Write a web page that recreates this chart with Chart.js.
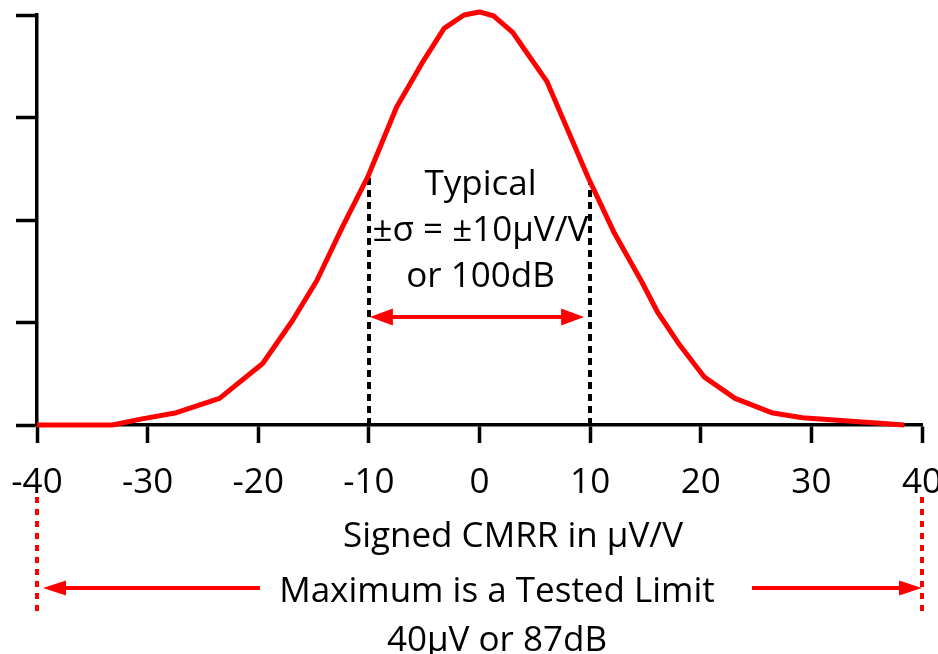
<!DOCTYPE html>
<html>
<head>
<meta charset="utf-8">
<script src="https://cdn.jsdelivr.net/npm/chart.js@4/dist/chart.umd.min.js"></script>
<style>
  html, body { margin: 0; padding: 0; background: #fff; }
  #wrap { width: 938px; height: 654px; position: relative; overflow: hidden; }
</style>
</head>
<body>
<div id="wrap"><canvas id="c" width="938" height="654"></canvas></div>
<script>
// Signed CMRR distribution (µV/V) and its relative frequency
const cmrrX   = [-40, -33.2, -30.5, -27.4, -23.5, -19.6, -16.9, -14.7, -12.4, -10.1, -7.5, -5.2, -3.2, -1.4, 0, 1.3, 3.0, 3.9, 6.1, 9.8, 12.2, 14.7, 16.1, 18.1, 20.3, 23.1, 26.4, 29.2, 38.4];
const density = [0, 0, 0.06, 0.12, 0.26, 0.60, 1.02, 1.41, 1.93, 2.42, 3.10, 3.53, 3.87, 4.00, 4.03, 3.99, 3.83, 3.69, 3.35, 2.42, 1.87, 1.39, 1.10, 0.78, 0.47, 0.26, 0.12, 0.07, 0];

// Axis ticks
const xTicks      = [-40, -30, -20, -10, 0, 10, 20, 30, 40];
const xTickLabels = ['-40', '-30', '-20', '-10', '0', '10', '20', '30', '40'];
const yTicks      = [0, 1, 2, 3, 4];

// Annotated values (µV/V)
const sigma = 10;   // typical ±σ
const limit = 40;   // tested maximum

// Texts
const axisTitle  = 'Signed CMRR in µV/V';
const sigmaNote  = ['Typical', '±σ = ±10µV/V', 'or 100dB'];
const limitNote  = ['Maximum is a Tested Limit', '40µV or 87dB'];

const FONT = '"Open Sans", Lato, sans-serif';
const FONT_SIZE = 35;
const RED = '#ff0000';

// curve height at a given x, read along the plotted polyline
function curveAt(x) {
  for (let i = 0; i < cmrrX.length - 1; i++) {
    if (x >= cmrrX[i] && x <= cmrrX[i + 1]) {
      const t = (x - cmrrX[i]) / (cmrrX[i + 1] - cmrrX[i]);
      return density[i] + t * (density[i + 1] - density[i]);
    }
  }
  return 0;
}

function arrowHead(ctx, tipX, tipY, dir, len, half) {
  // dir = -1 points left, +1 points right
  ctx.beginPath();
  ctx.moveTo(tipX, tipY);
  ctx.lineTo(tipX - dir * len, tipY - half);
  ctx.lineTo(tipX - dir * len, tipY + half);
  ctx.closePath();
  ctx.fill();
}

const notes = {
  id: 'notes',
  beforeDatasetsDraw(chart) {
    const { ctx, scales: { x: xs, y: ys } } = chart;
    ctx.save();
    // ±σ markers, dotted from the axis up to the curve
    ctx.strokeStyle = '#000';
    ctx.lineWidth = 4;
    ctx.setLineDash([7, 5]);
    [-sigma, sigma].forEach(v => {
      const px = Math.round(xs.getPixelForValue(v));
      ctx.beginPath();
      ctx.moveTo(px, ys.getPixelForValue(0));
      ctx.lineTo(px, ys.getPixelForValue(curveAt(v)));
      ctx.stroke();
    });
    ctx.restore();
  },
  afterDraw(chart) {
    const { ctx, scales: { x: xs, y: ys } } = chart;
    ctx.save();
    const cx = xs.getPixelForValue(0);
    const left = xs.getPixelForValue(-sigma);
    const right = xs.getPixelForValue(sigma);

    // ±σ text block
    ctx.fillStyle = '#000';
    ctx.font = FONT_SIZE + 'px ' + FONT;
    ctx.textAlign = 'center';
    ctx.textBaseline = 'alphabetic';
    [195, 241, 287].forEach((by, i) => ctx.fillText(sigmaNote[i], cx + 1, by));

    // double arrow spanning ±σ
    ctx.strokeStyle = RED;
    ctx.fillStyle = RED;
    ctx.lineWidth = 4;
    ctx.setLineDash([]);
    const ay = 317;
    const l0 = left + 1, r0 = right - 6;
    ctx.beginPath();
    ctx.moveTo(l0 + 18, ay);
    ctx.lineTo(r0 - 18, ay);
    ctx.stroke();
    arrowHead(ctx, l0, ay, -1, 23, 8.5);
    arrowHead(ctx, r0, ay, 1, 23, 8.5);

    // axis title
    ctx.fillStyle = '#000';
    ctx.fillText(axisTitle, 513, 547);

    // tested-limit markers
    const lx = Math.round(xs.getPixelForValue(-limit));
    const rx = Math.round(xs.getPixelForValue(limit));
    ctx.strokeStyle = RED;
    ctx.lineWidth = 4;
    ctx.setLineDash([6, 6]);
    [lx, rx].forEach(px => {
      ctx.beginPath();
      ctx.moveTo(px, 497);
      ctx.lineTo(px, 612);
      ctx.stroke();
    });
    ctx.setLineDash([]);
    const by = 588;
    ctx.fillStyle = RED;
    ctx.beginPath();
    ctx.moveTo(260, by);
    ctx.lineTo(lx + 6 + 18, by);
    ctx.moveTo(752, by);
    ctx.lineTo(rx - 18, by);
    ctx.stroke();
    arrowHead(ctx, lx + 6, by, -1, 23, 7.5);
    arrowHead(ctx, rx, by, 1, 23, 7.5);

    ctx.fillStyle = '#000';
    ctx.fillText(limitNote[0], 497, 602);
    ctx.fillText(limitNote[1], 497, 651);
    ctx.restore();
  }
};

new Chart(document.getElementById('c'), {
  type: 'line',
  data: {
    datasets: [{
      data: cmrrX.map((x, i) => ({ x, y: density[i] })),
      borderColor: RED,
      borderWidth: 5,
      pointRadius: 0,
      tension: 0,
      fill: false,
      clip: false,
      borderJoinStyle: 'round'
    }]
  },
  options: {
    responsive: false,
    animation: false,
    devicePixelRatio: 1,
    layout: { padding: { left: 0, right: 16, top: 15, bottom: 0 } },
    plugins: { legend: { display: false }, tooltip: { enabled: false } },
    scales: {
      x: {
        type: 'linear',
        min: -40,
        max: 40,
        afterBuildTicks: s => { s.ticks = xTicks.map(v => ({ value: v })); },
        ticks: {
          callback: v => xTickLabels[xTicks.indexOf(v)],
          font: { family: FONT, size: FONT_SIZE },
          color: '#000',
          padding: 19,
          maxRotation: 0,
          autoSkip: false
        },
        grid: { drawOnChartArea: false, drawTicks: true, tickLength: 18, tickWidth: 3.5, tickColor: '#000' },
        border: { display: true, color: '#000', width: 3.5 },
        afterFit: s => { s.height = 229; s.paddingLeft = 0; s.paddingRight = 0; }
      },
      y: {
        min: 0,
        max: 4,
        afterBuildTicks: s => { s.ticks = yTicks.map(v => ({ value: v })); },
        ticks: { display: false },
        grid: { drawOnChartArea: false, drawTicks: true, tickLength: 21, tickWidth: 3.5, tickColor: '#000' },
        border: { display: true, color: '#000', width: 3.5 },
        afterFit: s => { s.width = 37; s.paddingTop = 0; s.paddingBottom = 0; }
      }
    }
  },
  plugins: [notes]
});
</script>
</body>
</html>
